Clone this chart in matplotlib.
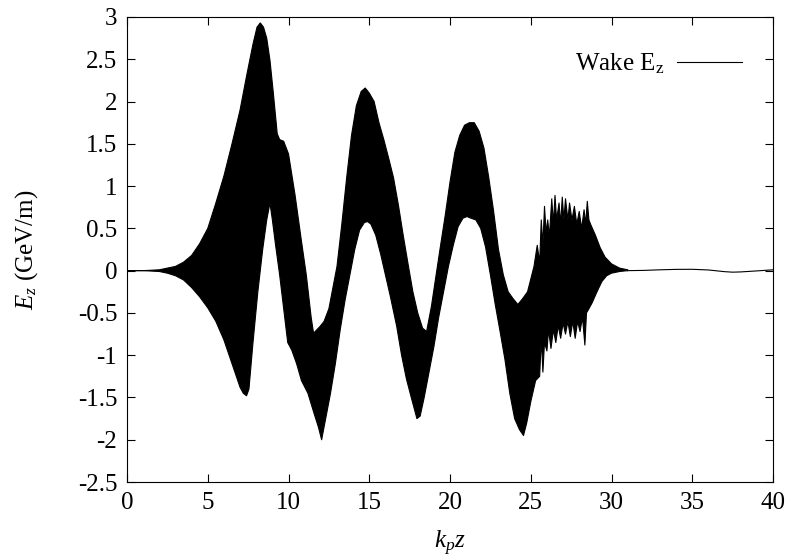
import numpy as np
import matplotlib
matplotlib.use("Agg")
import matplotlib.pyplot as plt

plt.rcParams['font.family'] = ['Liberation Serif', 'DejaVu Serif']
plt.rcParams['mathtext.fontset'] = 'custom'
plt.rcParams['mathtext.rm'] = 'Liberation Serif'
plt.rcParams['mathtext.it'] = 'Liberation Serif:italic'

# upper edge of the wake field band, k_p z vs GeV/m
x_up = [0, 1.0, 2.0, 2.5, 3.0, 3.5, 4.0, 4.5, 5.0, 5.5, 6.0, 6.5, 7.0, 7.4, 7.8,
        8.05, 8.25, 8.45, 8.65, 8.85, 9.06, 9.3, 9.45, 9.7, 10.0, 10.4, 10.8,
        11.1, 11.4, 11.55, 11.75, 11.95, 12.2, 12.5, 12.75, 13.0, 13.3, 13.6,
        13.9, 14.2, 14.5, 14.75, 15.0, 15.3, 15.6, 15.9, 16.2, 16.5, 16.8,
        17.1, 17.4, 17.7, 18.0, 18.3, 18.55, 18.85, 19.1, 19.4, 19.7, 20.0,
        20.3, 20.6, 20.9, 21.2, 21.5, 21.8, 22.1, 22.4, 22.7, 23.0, 23.3,
        23.6, 23.9, 24.2, 24.5, 24.8, 25.0, 25.2, 25.4, 25.55, 25.65, 25.75,
        25.85, 25.95, 26.05, 26.15, 26.3, 26.4, 26.5, 26.6, 26.75, 26.85,
        26.95, 27.05, 27.15, 27.3, 27.4, 27.55, 27.7, 27.85, 28.0, 28.15,
        28.3, 28.4, 28.5, 28.6, 28.7, 29.0, 29.3, 29.6, 30.0, 30.5, 31.0]
y_up = [0, 0.0, 0.01, 0.03, 0.05, 0.1, 0.18, 0.32, 0.5, 0.8, 1.12, 1.5, 1.9,
        2.3, 2.68, 2.88, 2.93, 2.88, 2.75, 2.49, 2.10, 1.62, 1.55, 1.53, 1.38,
        0.9, 0.35, -0.05, -0.55, -0.74, -0.7, -0.66, -0.6, -0.45, -0.2, 0.05,
        0.55, 1.1, 1.6, 1.95, 2.12, 2.16, 2.1, 2.0, 1.75, 1.55, 1.33, 1.1,
        0.78, 0.42, 0.08, -0.25, -0.5, -0.68, -0.72, -0.42, -0.1, 0.28, 0.65,
        1.05, 1.4, 1.6, 1.72, 1.75, 1.75, 1.65, 1.45, 1.1, 0.7, 0.25, -0.05,
        -0.25, -0.33, -0.4, -0.33, -0.25, -0.1, 0.05, 0.3, 0.1, 0.6, 0.3,
        0.76, 0.45, 0.6, 0.4, 0.85, 0.55, 0.89, 0.6, 0.8, 0.55, 0.87, 0.6,
        0.85, 0.6, 0.8, 0.6, 0.76, 0.55, 0.7, 0.5, 0.72, 0.55, 0.82, 0.6,
        0.55, 0.42, 0.27, 0.16, 0.08, 0.03, 0.01]

# lower edge of the band
x_lo = [0, 1.0, 2.0, 2.5, 3.0, 3.5, 4.0, 4.5, 5.0, 5.5, 6.0, 6.5, 7.0, 7.2,
        7.4, 7.55, 7.8, 8.1, 8.4, 8.65, 8.85, 9.0, 9.2, 9.45, 9.7, 9.95, 10.2,
        10.5, 10.8, 11.2, 11.6, 11.85, 12.05, 12.3, 12.6, 12.9, 13.2, 13.5,
        13.8, 14.1, 14.4, 14.7, 14.9, 15.1, 15.4, 15.7, 16.0, 16.3, 16.7,
        17.0, 17.3, 17.6, 17.95, 18.15, 18.4, 18.7, 19.0, 19.3, 19.6, 19.9,
        20.2, 20.5, 20.8, 21.05, 21.3, 21.6, 21.9, 22.2, 22.5, 22.8, 23.1,
        23.4, 23.7, 24.0, 24.3, 24.55, 24.75, 25.0, 25.3, 25.55, 25.65, 25.75,
        25.85, 26.0, 26.1, 26.25, 26.4, 26.55, 26.7, 26.85, 27.0, 27.15, 27.3,
        27.45, 27.6, 27.75, 27.9, 28.05, 28.2, 28.35, 28.45, 28.6, 28.8, 29.1,
        29.4, 29.7, 30.0, 30.5, 31.0]
y_lo = [0, 0.0, -0.01, -0.03, -0.06, -0.11, -0.2, -0.31, -0.44, -0.6, -0.82,
        -1.1, -1.38, -1.45, -1.48, -1.4, -0.85, -0.25, 0.25, 0.6, 0.8, 0.6,
        0.3, -0.05, -0.45, -0.85, -0.94, -1.1, -1.3, -1.45, -1.7, -1.85, -2.0,
        -1.75, -1.45, -1.1, -0.7, -0.35, -0.05, 0.25, 0.48, 0.57, 0.58, 0.55,
        0.42, 0.2, -0.05, -0.3, -0.66, -1.0, -1.28, -1.5, -1.75, -1.72, -1.5,
        -1.2, -0.9, -0.55, -0.25, 0.05, 0.3, 0.52, 0.62, 0.64, 0.62, 0.6, 0.5,
        0.28, -0.05, -0.4, -0.72, -1.05, -1.45, -1.75, -1.88, -1.95, -1.8,
        -1.55, -1.3, -1.25, -0.8, -1.2, -0.85, -0.95, -0.7, -0.92, -0.7,
        -0.85, -0.65, -0.8, -0.62, -0.75, -0.6, -0.78, -0.6, -0.8, -0.6,
        -0.72, -0.55, -0.88, -0.5, -0.45, -0.38, -0.25, -0.13, -0.06, -0.03,
        -0.01, 0.0]

# weak wake left behind the pulse
x_tail = [31.0, 32.0, 33.0, 34.0, 35.0, 36.0, 37.0, 37.5, 38.0, 39.0, 40.0]
y_tail = [0.0, 0.003, 0.01, 0.015, 0.016, 0.008, -0.012, -0.018, -0.015,
          -0.003, 0.01]

xticks = [0, 5, 10, 15, 20, 25, 30, 35, 40]
yticks = [-2.5, -2, -1.5, -1, -0.5, 0, 0.5, 1, 1.5, 2, 2.5, 3]
ytick_labels = ['-2.5', '-2', '-1.5', '-1', '-0.5', '0', '0.5', '1', '1.5',
                '2', '2.5', '3']

fs = 18

fig = plt.figure(figsize=(7.88, 5.59), dpi=100)
ax = fig.add_axes([0.1612, 0.1377, 0.8198, 0.8319])

# the fast oscillation fills the region between both edges
band_x = np.r_[x_up, x_lo[::-1]]
band_y = np.r_[y_up, y_lo[::-1]]
ax.fill(band_x, band_y, color='black', lw=0)
ax.plot(x_up, y_up, color='black', lw=0.8, label=r'Wake E$_\mathrm{z}$')
ax.plot(x_lo, y_lo, color='black', lw=0.8)
ax.plot(x_tail, y_tail, color='black', lw=0.8)

ax.set_xlim(0, 40)
ax.set_ylim(-2.5, 3)
ax.set_xticks(xticks)
ax.set_xticklabels([str(t) for t in xticks])
ax.set_yticks(yticks)
ax.set_yticklabels(ytick_labels)
ax.tick_params(direction='in', length=6, width=0.8, top=True, right=True,
               labelsize=fs, pad=7)
for s in ax.spines.values():
    s.set_linewidth(0.8)

ax.set_xlabel(r'$k_p z$', fontsize=fs, labelpad=11)
ax.set_ylabel(r'$E_z$ (GeV/m)', fontsize=fs, labelpad=27)

ax.legend(loc='upper right', bbox_to_anchor=(0.952, 0.926), frameon=False,
          markerfirst=False, handlelength=2.6, handletextpad=0.5,
          borderaxespad=0, borderpad=0, fontsize=fs)

fig.savefig('out.png', dpi=100)
